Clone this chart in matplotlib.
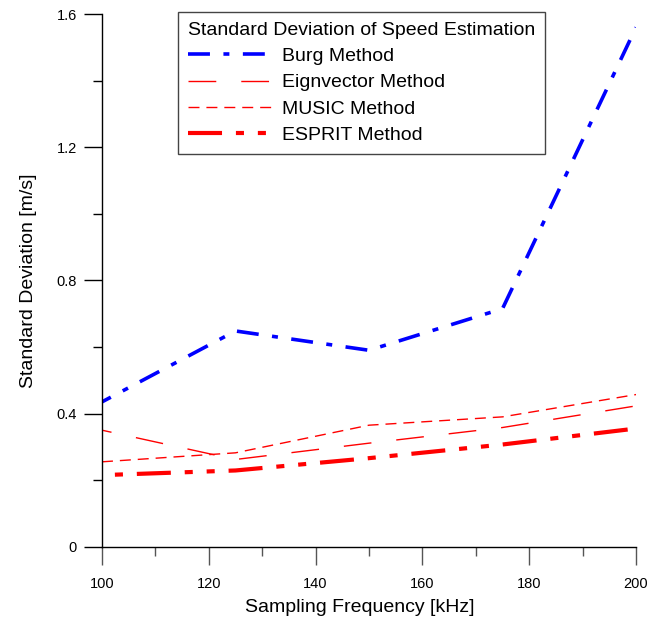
import matplotlib
matplotlib.use("Agg")
import matplotlib.pyplot as plt
from matplotlib.lines import Line2D
from matplotlib.ticker import MultipleLocator, FuncFormatter

plt.rcParams['font.family'] = ['Liberation Sans', 'DejaVu Sans']
plt.rcParams['lines.scale_dashes'] = False

freq = [100, 125, 150, 175, 200]
burg = [0.435, 0.648, 0.59, 0.715, 1.56]
eign = [0.35, 0.262, 0.311, 0.358, 0.423]
music = [0.255, 0.282, 0.365, 0.39, 0.457]
esprit = [0.215, 0.229, 0.266, 0.307, 0.355]
labels = ["Burg Method", "Eignvector Method", "MUSIC Method", "ESPRIT Method"]
legend_title = "Standard Deviation of Speed Estimation"

styles = [
    dict(color='#0000ff', lw=2.6, dash=(15.8, 9.7, 4.3, 9.7), off=8.6),
    dict(color='#ff0000', lw=1.0, dash=(20.0, 18.0), off=13.0),
    dict(color='#ff0000', lw=1.0, dash=(7.9, 5.0), off=0),
    dict(color='#ff0000', lw=3.0, dash=(24.5, 10.0, 5.8, 10.0, 5.8, 10.0), off=41.0),
]
series = [burg, eign, music, esprit]

fig = plt.figure(figsize=(6.58, 6.20), dpi=100)
ax = fig.add_axes([0.155, 0.1182, 0.9666 - 0.155, 0.9774 - 0.1182])

handles = []
for ys, st, lab in zip(series, styles, labels):
    ax.plot(freq, ys, color=st['color'], lw=st['lw'],
            linestyle=(st['off'], st['dash']))
    handles.append(Line2D([], [], color=st['color'], lw=st['lw'],
                          linestyle=(0, st['dash']), label=lab))

ax.set_xlim(100, 200)
ax.set_ylim(0, 1.6)
ax.xaxis.set_major_locator(MultipleLocator(20))
ax.xaxis.set_minor_locator(MultipleLocator(10))
ax.yaxis.set_major_locator(MultipleLocator(0.4))
ax.yaxis.set_minor_locator(MultipleLocator(0.2))
ax.yaxis.set_major_formatter(FuncFormatter(lambda v, p: "0" if abs(v) < 1e-9 else f"{v:.1f}"))

for s in ['top', 'right']:
    ax.spines[s].set_visible(False)
for s in ['left', 'bottom']:
    ax.spines[s].set_linewidth(1.0)
    ax.spines[s].set_color('black')

ax.tick_params(axis='both', which='major', direction='out', length=13, width=1.0,
               labelsize=10.5, colors='black')
ax.tick_params(axis='both', which='minor', direction='out', length=6.5, width=1.0,
               colors='black')
ax.tick_params(axis='x', which='both', color='#555555')
ax.tick_params(axis='x', which='major', pad=8.5)
ax.tick_params(axis='y', which='major', pad=5)

ax.set_xlabel("Sampling Frequency [kHz]", fontsize=14)
ax.set_ylabel("Standard Deviation [m/s]", fontsize=14, labelpad=14)
ax.xaxis.set_label_coords(0.483, -0.098)

leg = ax.legend(handles=handles, title=legend_title, loc='upper left',
                bbox_to_anchor=((178 - 102) / 534, 1 + 2 / 532), fontsize=14,
                title_fontsize=14, handlelength=4.27, handletextpad=0.6,
                labelspacing=0.45, borderpad=0.5, fancybox=False, framealpha=1,
                edgecolor='#444444', alignment='left', borderaxespad=0)
leg.get_frame().set_linewidth(1.0)

fig.savefig("out.png", dpi=100)
